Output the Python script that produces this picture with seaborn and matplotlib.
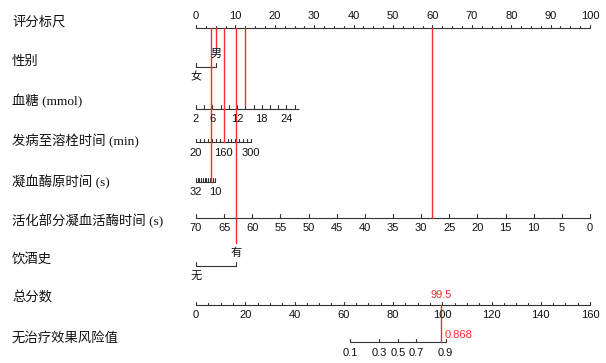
import numpy as np
import pandas as pd
import matplotlib
matplotlib.use("Agg")
import matplotlib.pyplot as plt
import seaborn as sns

# ---------------- data ----------------
row_labels = ["评分标尺", "性别", "血糖 (mmol)", "发病至溶栓时间 (min)", "凝血酶原时间 (s)",
              "活化部分凝血活酶时间 (s)", "饮酒史", "总分数", "无治疗效果风险值"]

points_ticks = [0, 10, 20, 30, 40, 50, 60, 70, 80, 90, 100]
points_minor = [i * 2.5 for i in range(41)]

sex_levels = ["女", "男"]
sex_points = [0, 5.0]
patient_sex = "男"

glu_range = [2, 27]
glu_points_range = [0, 26.1]
glu_ticks = [2, 4, 6, 8, 10, 12, 14, 16, 18, 20, 22, 24, 26]
glu_labels = [2, 6, 12, 18, 24]
patient_glu = 13.9

onset_range = [20, 300]
onset_points_range = [0, 14.0]
onset_ticks = [20, 40, 60, 80, 100, 120, 140, 160, 180, 200, 220, 240, 260, 280, 300]
onset_labels = [20, 160, 300]
patient_onset = 163

pt_range = [32, 10]
pt_points_range = [0, 4.8]
pt_ticks = [32, 30, 28, 26, 24, 22, 20, 18, 16, 14, 12, 10]
pt_labels = [32, 10]
patient_pt = 14.8

aptt_range = [70, 0]
aptt_points_range = [0, 100]
aptt_ticks = [70, 65, 60, 55, 50, 45, 40, 35, 30, 25, 20, 15, 10, 5, 0]
patient_aptt = 28.1

alc_levels = ["无", "有"]
alc_points = [0, 10.1]
patient_alc = "有"

total_max = 160
total_ticks = [0, 20, 40, 60, 80, 100, 120, 140, 160]
total_minor = [i * 5 for i in range(33)]

risk_ticks = [0.1, 0.3, 0.5, 0.7, 0.9]
risk_tick_total = [62.5, 74.4, 82.0, 89.5, 101.4]
patient_total = 99.5
patient_risk = 0.868

# ---------------- layout ----------------
W, H = 606, 363
PX_PER_PT = 3.94
X0_PX = 196
Y = dict(points=28.3, sex=66.7, glu=108.5, onset=142.0, pt=181.5, aptt=217.5,
         alc=265.5, total=305.0, risk=342.0)
LABEL_Y = [22.7, 61.7, 100.7, 140.7, 181.7, 220.7, 259.3, 298.3, 338.3]

sns.set_theme(style="white")
plt.rcParams["font.family"] = ["Liberation Sans", "Noto Sans CJK SC"]
LEFT_FONT = ["Liberation Serif", "Noto Sans CJK SC"]
AXC = "#333333"
RED = "#ff2b2b"
TICK_FS = 8.0

fig = plt.figure(figsize=(W / 100, H / 100), dpi=100)
ax = fig.add_axes([0, 0, 1, 1])


def lin(v, rng, prng):
    if rng[0] < rng[1]:
        return np.interp(v, rng, prng)
    return np.interp(-np.asarray(v, dtype=float), [-rng[0], -rng[1]], prng)


def draw_axis(y, xs_all, x_lo, x_hi, labels=None, label_xs=None,
              labels_above=False, major_len=3.5, minor_len=3.5, major_xs=None):
    ax.plot([x_lo, x_hi], [y, y], color=AXC, lw=0.8, solid_capstyle="butt")
    major_set = set(np.round(major_xs, 6)) if major_xs is not None else set()
    for x in xs_all:
        ln = major_len if round(float(x), 6) in major_set else minor_len
        ax.plot([x, x], [y, y - ln], color=AXC, lw=0.8)
    if labels is not None:
        ly = y - 12 if labels_above else y + 10.5
        for x, t in zip(label_xs, labels):
            ax.text(x, ly, str(t), ha="center", va="center", fontsize=TICK_FS, color="#111111")


# left labels
for lab, ly in zip(row_labels, LABEL_Y):
    ax.text((12 - X0_PX) / PX_PER_PT, ly, lab, ha="left", va="center", fontsize=9.6,
            family=LEFT_FONT, color="#111111")

# points scale
draw_axis(Y["points"], points_minor, 0, 100, labels=points_ticks, label_xs=points_ticks,
          labels_above=True, major_len=3.5, minor_len=2.2, major_xs=points_ticks)


def bracket(y, xs, levels):
    ax.plot([xs[0], xs[-1]], [y, y], color=AXC, lw=0.8)
    for x in xs:
        ax.plot([x, x], [y, y - 4], color=AXC, lw=0.8)
    ax.text(xs[0], y + 10, levels[0], ha="center", va="center", fontsize=TICK_FS, color="#111111")
    ax.text(xs[1], y - 12.5, levels[1], ha="center", va="center", fontsize=TICK_FS, color="#111111")


# sex
bracket(Y["sex"], sex_points, sex_levels)

# glucose
g_all = lin(glu_ticks, glu_range, glu_points_range)
g_lab = lin(glu_labels, glu_range, glu_points_range)
draw_axis(Y["glu"], g_all, float(lin(glu_range[0], glu_range, glu_points_range)),
          float(lin(glu_range[1], glu_range, glu_points_range)), labels=glu_labels, label_xs=g_lab)

# onset
o_all = lin(onset_ticks, onset_range, onset_points_range)
o_lab = lin(onset_labels, onset_range, onset_points_range)
draw_axis(Y["onset"], o_all, onset_points_range[0], onset_points_range[1],
          labels=onset_labels, label_xs=o_lab)

# prothrombin time
p_all = lin(pt_ticks, pt_range, pt_points_range)
p_lab = lin(pt_labels, pt_range, pt_points_range)
draw_axis(Y["pt"], p_all, pt_points_range[0], pt_points_range[1], labels=pt_labels, label_xs=p_lab)

# APTT
a_all = lin(aptt_ticks, aptt_range, aptt_points_range)
draw_axis(Y["aptt"], a_all, 0, 100, labels=aptt_ticks, label_xs=a_all)

# alcohol
bracket(Y["alc"], alc_points, alc_levels)

# total points
t_scale = 100 / total_max
draw_axis(Y["total"], [t * t_scale for t in total_minor], 0, 100, labels=total_ticks,
          label_xs=[t * t_scale for t in total_ticks], major_len=3.5, minor_len=2.2,
          major_xs=[t * t_scale for t in total_ticks])

# risk
r_xs = [t * t_scale for t in risk_tick_total]
draw_axis(Y["risk"], r_xs, r_xs[0], r_xs[-1], labels=risk_ticks, label_xs=r_xs)

# ---------------- patient red lines ----------------
seg = []


def add(uid, x, y0, y1):
    seg.append(dict(id=uid, x=x, y=y0))
    seg.append(dict(id=uid, x=x, y=y1))


add("sex", sex_points[sex_levels.index(patient_sex)], Y["points"], Y["sex"] - 20)
add("glu", float(lin(patient_glu, glu_range, glu_points_range)), Y["points"], Y["glu"] - 3.5)
add("onset", float(lin(patient_onset, onset_range, onset_points_range)), Y["points"], Y["onset"])
add("pt", float(lin(patient_pt, pt_range, pt_points_range)), Y["points"], Y["pt"])
add("aptt", float(lin(patient_aptt, aptt_range, aptt_points_range)), Y["points"], Y["aptt"])
add("alc", alc_points[alc_levels.index(patient_alc)], Y["points"], Y["alc"] - 22.5)
add("total", patient_total * t_scale, Y["total"], Y["risk"])
df = pd.DataFrame(seg)
sns.lineplot(data=df, x="x", y="y", units="id", estimator=None, sort=False,
             color=RED, lw=1.0, ax=ax, legend=False)

ax.text(patient_total * t_scale, Y["total"] - 10, f"{patient_total}", ha="center", va="center",
        fontsize=TICK_FS, color=RED)
ax.text(patient_total * t_scale + 0.9, Y["risk"] - 6.5, f"{patient_risk}", ha="left", va="center",
        fontsize=TICK_FS, color=RED)

ax.set_xlim(-X0_PX / PX_PER_PT, (W - X0_PX) / PX_PER_PT)
ax.set_ylim(H, 0)
ax.axis("off")

fig.savefig("out.png", dpi=100)
